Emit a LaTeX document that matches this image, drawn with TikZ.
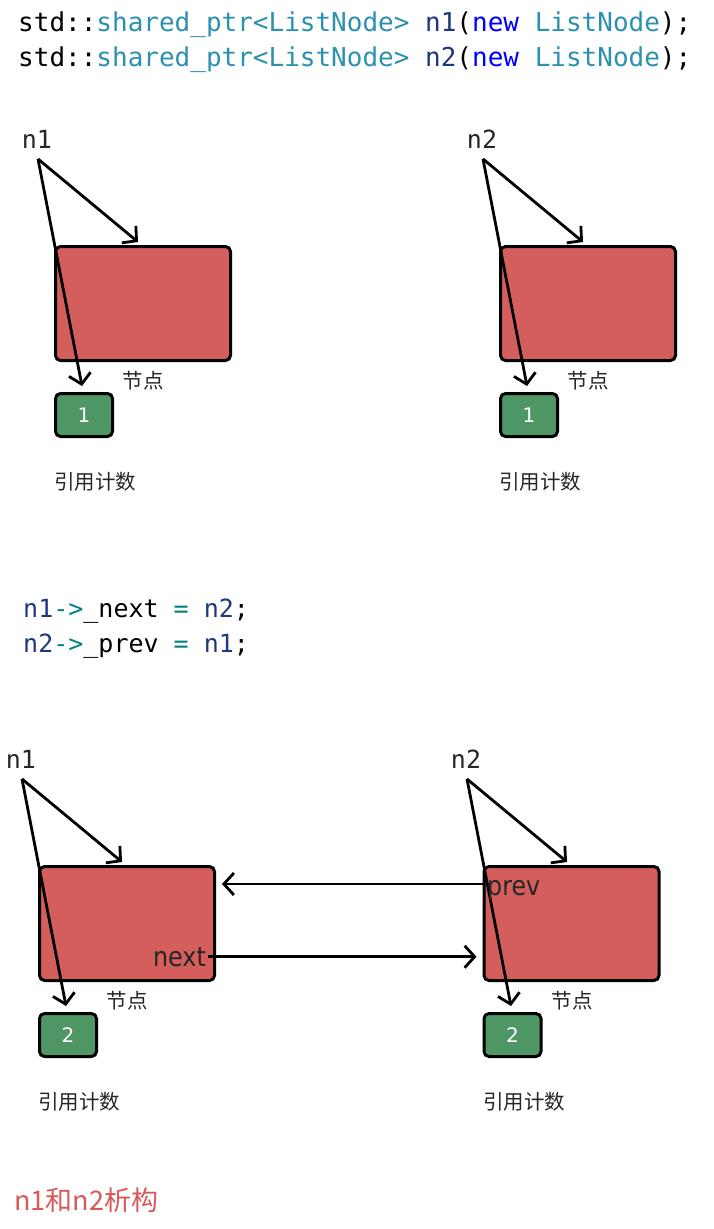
\documentclass[tikz,border=0pt]{standalone}
\usepackage{fontspec}
\setmainfont{DejaVu Sans}
\setmonofont{DejaVu Sans Mono}
\newfontfamily\cjk{Noto Sans CJK SC}
\newfontfamily\lblfont[FakeStretch=0.88]{DejaVu Sans}
\usetikzlibrary{arrows.meta}
\definecolor{codeteal}{RGB}{43,145,175}
\definecolor{codenavy}{RGB}{31,55,127}
\definecolor{codeblue}{RGB}{0,0,255}
\definecolor{opteal}{RGB}{0,128,128}
\definecolor{nodered}{RGB}{212,94,92}
\definecolor{cntgreen}{RGB}{79,150,101}
\definecolor{notered}{RGB}{217,88,88}
\begin{document}
\begin{tikzpicture}[x=1pt,y=-1pt,
  code/.style={inner sep=0pt,anchor=base west,font=\ttfamily\fontsize{26}{30}\selectfont},
  ptrname/.style={inner sep=0pt,anchor=base,text=black!85,font=\ttfamily\fontsize{25}{28}\selectfont},
  obj/.style={draw=black,line width=3pt,rounded corners=5pt,fill=nodered,minimum width=175pt,minimum height=114pt,inner sep=0pt},
  cnt/.style={draw=black,line width=3pt,rounded corners=5pt,fill=cntgreen,minimum width=57pt,minimum height=43pt,inner sep=0pt,text=white,font=\fontsize{20}{22}\selectfont},
  caption/.style={inner sep=0pt,text=black!85,font=\cjk\fontsize{20.5}{24}\selectfont},
  field/.style={inner sep=2pt,text=black!85,font=\lblfont\fontsize{27}{30}\selectfont},
  ptr/.style={line width=2.8pt,-{Straight Barb[length=10pt,width=22pt]}}]
\path[use as bounding box] (0,0) rectangle (713,1229);

\node[code] (c1) at (18,31) {std::\textcolor{codeteal}{shared\_ptr<ListNode>} \textcolor{codenavy}{n1}(\textcolor{codeblue}{new} \textcolor{codeteal}{ListNode});};
\node[code] (c2) at (18,66) {std::\textcolor{codeteal}{shared\_ptr<ListNode>} \textcolor{codenavy}{n2}(\textcolor{codeblue}{new} \textcolor{codeteal}{ListNode});};

\node[ptrname] (l1) at (37,148) {n1};
\node[obj] (b1) at (143,303.5) {};
\node[cnt] (g1) at (84,415) {1};
\node[caption] (t1) at (143,381) {节点};
\node[caption] (r1) at (95,482) {引用计数};
\coordinate (s1) at (38,159);
\coordinate (e1) at (138,242);
\coordinate (f1) at (82,386);
\draw[ptr] (s1) -- (e1);
\draw[ptr] (s1) -- (f1);

\node[ptrname] (l2) at (482,148) {n2};
\node[obj] (b2) at (588,303.5) {};
\node[cnt] (g2) at (529,415) {1};
\node[caption] (t2) at (588,381) {节点};
\node[caption] (r2) at (540,482) {引用计数};
\coordinate (s2) at (483,159);
\coordinate (e2) at (583,242);
\coordinate (f2) at (527,386);
\draw[ptr] (s2) -- (e2);
\draw[ptr] (s2) -- (f2);

\node[code,font=\ttfamily\fontsize{25}{30}\selectfont] (c3) at (23,617) {\textcolor{codenavy}{n1}\textcolor{opteal}{->}\_next \textcolor{opteal}{=} \textcolor{codenavy}{n2};};
\node[code,font=\ttfamily\fontsize{25}{30}\selectfont] (c4) at (23,652) {\textcolor{codenavy}{n2}\textcolor{opteal}{->}\_prev \textcolor{opteal}{=} \textcolor{codenavy}{n1};};

\node[ptrname] (l3) at (21,768) {n1};
\node[obj] (b3) at (127,923.5) {};
\node[cnt] (g3) at (68,1035) {2};
\node[caption] (t3) at (127,1001) {节点};
\node[caption] (r3) at (79,1102) {引用计数};
\coordinate (s3) at (22,779);
\coordinate (e3) at (122,862);
\coordinate (f3) at (66,1006);
\draw[ptr] (s3) -- (e3);
\draw[ptr] (s3) -- (f3);

\node[ptrname] (l4) at (466,768) {n2};
\node[obj] (b4) at (571.5,923.5) {};
\node[cnt] (g4) at (512.5,1035) {2};
\node[caption] (t4) at (572,1001) {节点};
\node[caption] (r4) at (524,1102) {引用计数};
\coordinate (s4) at (467,779);
\coordinate (e4) at (567,862);
\coordinate (f4) at (511,1006);
\draw[ptr] (s4) -- (e4);
\draw[ptr] (s4) -- (f4);

\node[field,anchor=base east] (nx) at (208,966) {next};
\node[field,anchor=base west,inner sep=0pt] (pv) at (487,895) {prev};
\coordinate (pa) at (483,884);
\draw[ptr,shorten >=6pt] (nx.east) -- (nx.east -| b4.west);
\draw[ptr,shorten >=6pt] (pa) -- (pa -| b3.east);

\node[inner sep=0pt,anchor=west,text=notered,font=\cjk\fontsize{27}{30}\selectfont] (dt) at (14,1200) {n1和n2析构};
\end{tikzpicture}
\end{document}
